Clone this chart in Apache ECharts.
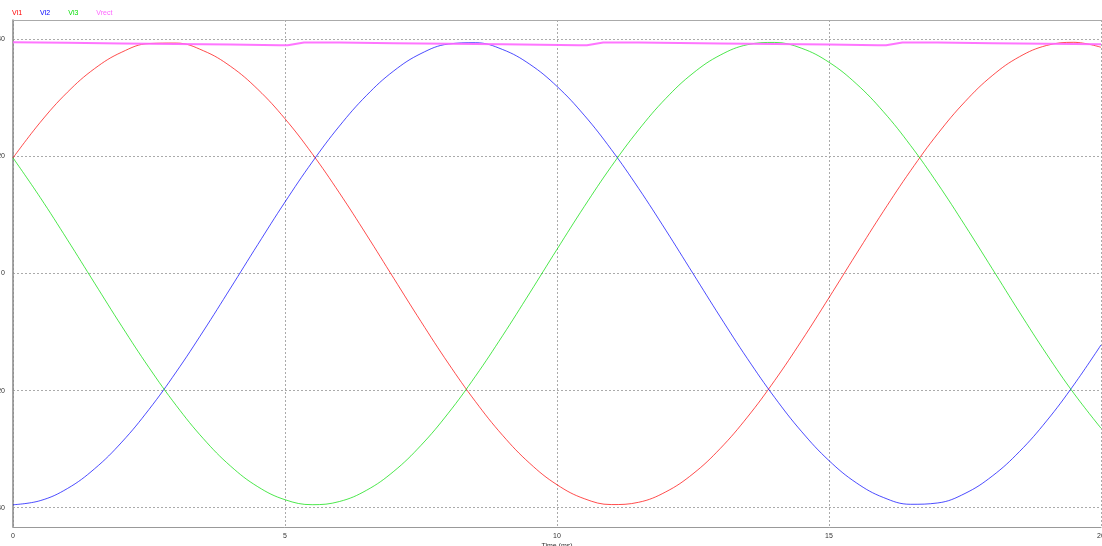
<!DOCTYPE html>
<html>
<head>
<meta charset="utf-8">
<title>Vl1 Vl2 Vl3 Vrect</title>
<script src="https://cdn.jsdelivr.net/npm/echarts@6/dist/echarts.min.js"></script>
<style>
  html, body { margin: 0; padding: 0; background: #fff; }
  #chart { width: 1102px; height: 546px; }
</style>
</head>
<body>
<div id="chart"></div>
<script>
// time samples (ms)
var timeMs = [0, 0.5, 1, 1.5, 2, 2.5, 3, 3.5, 4, 4.5, 5, 5.5, 6, 6.5, 7, 7.5, 8, 8.5, 9, 9.5,
  10, 10.5, 11, 11.5, 12, 12.5, 13, 13.5, 14, 14.5, 15, 15.5, 16, 16.5, 17, 17.5, 18, 18.5, 19, 19.5, 20];

// phase voltages
var vl1 = [19.75, 25.81, 30.96, 35.00, 37.81, 39.28, 39.36, 38.05, 35.38, 31.46, 26.43, 20.46, 13.77, 6.59,
  -0.83, -8.21, -15.31, -21.86, -27.64, -32.43, -36.08, -38.46, -39.47, -39.08, -37.30, -34.21, -29.90,
  -24.53, -18.30, -11.42, -4.13, 3.31, 10.62, 17.56, 23.88, 29.35, 33.79, 37.02, 38.95, 39.49, 38.64];
var vl2 = [-39.50, -38.80, -36.73, -33.35, -28.80, -23.22, -16.82, -9.82, -2.48, 4.95, 12.21, 19.03, 25.18,
  30.43, 34.61, 37.57, 39.19, 39.42, 38.26, 35.74, 31.96, 27.04, 21.16, 14.54, 7.40, 0, -7.40, -14.54,
  -21.16, -27.04, -31.96, -35.74, -38.26, -39.42, -39.19, -37.57, -34.61, -30.43, -25.18, -19.03, -12.21];
var vl3 = [19.75, 12.99, 5.77, -1.65, -9.02, -16.07, -22.54, -28.22, -32.90, -36.42, -38.64, -39.49, -38.95,
  -37.02, -33.79, -29.35, -23.88, -17.56, -10.62, -3.31, 4.13, 11.42, 18.30, 24.53, 29.90, 34.21, 37.30,
  39.08, 39.47, 38.46, 36.08, 32.43, 27.64, 21.86, 15.31, 8.21, 0.83, -6.59, -13.77, -20.46, -26.43];

// rectified output (own time points, denser around the recharge steps)
var rectTime = [0, 1, 2, 3, 4, 4.9, 5.05, 5.35, 6, 7, 8, 9, 10.4, 10.55, 10.85, 11.5, 13, 14, 15, 15.9,
  16.05, 16.35, 17, 18, 19, 20];
var vrect = [39.5, 39.4, 39.3, 39.2, 39.1, 39.0, 39.0, 39.45, 39.45, 39.35, 39.25, 39.15, 39.0, 39.0,
  39.45, 39.45, 39.3, 39.2, 39.1, 39.0, 39.0, 39.45, 39.45, 39.35, 39.25, 39.15];

var yTicks = [-40, -20, 0, 20, 40];
var seriesNames = ['Vl1', 'Vl2', 'Vl3', 'Vrect'];
var seriesColors = ['#ff0000', '#0000ff', '#00dd00', '#ff66ff'];

function pairs(xs, ys) {
  return xs.map(function (x, i) { return [x, ys[i]]; });
}

var chart = echarts.init(document.getElementById('chart'));

var gridLine = { show: true, lineStyle: { color: '#aaaaaa', type: [2, 2], width: 1 } };
var labelFont = { fontFamily: 'Liberation Sans', fontSize: 7, color: '#333' };

chart.setOption({
  animation: false,
  backgroundColor: '#ffffff',
  legend: {
    left: 5,
    top: 8,
    padding: 2,
    itemWidth: 0,
    itemHeight: 0,
    itemGap: 13,
    icon: 'rect',
    selectedMode: false,
    textStyle: { fontFamily: 'Liberation Sans', fontSize: 7 },
    data: seriesNames.map(function (n, i) {
      return { name: n, textStyle: { color: seriesColors[i] } };
    })
  },
  grid: { left: 13, right: 1, top: 20, bottom: 19, containLabel: false, outerBoundsMode: 'none' },
  xAxis: [{
    type: 'value',
    min: 0,
    max: 20,
    interval: 5,
    name: 'Time (ms)',
    nameLocation: 'middle',
    nameGap: 16,
    nameMoveOverlap: false,
    nameTextStyle: labelFont,
    axisLine: { show: true, onZero: false, lineStyle: { color: '#999', width: 1 } },
    axisTick: { show: false },
    axisLabel: Object.assign({ margin: 6 }, labelFont),
    splitLine: gridLine
  }, {
    type: 'value',
    position: 'top',
    min: 0,
    max: 20,
    axisLine: { show: true, onZero: false, lineStyle: { color: '#aaa', width: 1 } },
    axisTick: { show: false },
    axisLabel: { show: false },
    splitLine: { show: false }
  }],
  yAxis: {
    type: 'value',
    min: -43.3,
    max: 43.3,
    axisLine: { show: true, onZero: false, lineStyle: { color: '#888', width: 1.5 } },
    axisTick: { show: false, customValues: yTicks },
    axisLabel: Object.assign({ margin: 8, customValues: yTicks }, labelFont),
    splitLine: gridLine
  },
  series: [
    { name: 'Vl1', type: 'line', data: pairs(timeMs, vl1) },
    { name: 'Vl2', type: 'line', data: pairs(timeMs, vl2) },
    { name: 'Vl3', type: 'line', data: pairs(timeMs, vl3) },
    { name: 'Vrect', type: 'line', data: pairs(rectTime, vrect) }
  ].map(function (s, i) {
    s.showSymbol = false;
    s.smooth = i < 3 ? 0.4 : false;
    s.color = seriesColors[i];
    s.lineStyle = { color: seriesColors[i], width: i < 3 ? 1 : 2, opacity: i < 3 ? 0.7 : 0.9 };
    s.z = i === 3 ? 3 : 2;
    return s;
  })
});
</script>
</body>
</html>
